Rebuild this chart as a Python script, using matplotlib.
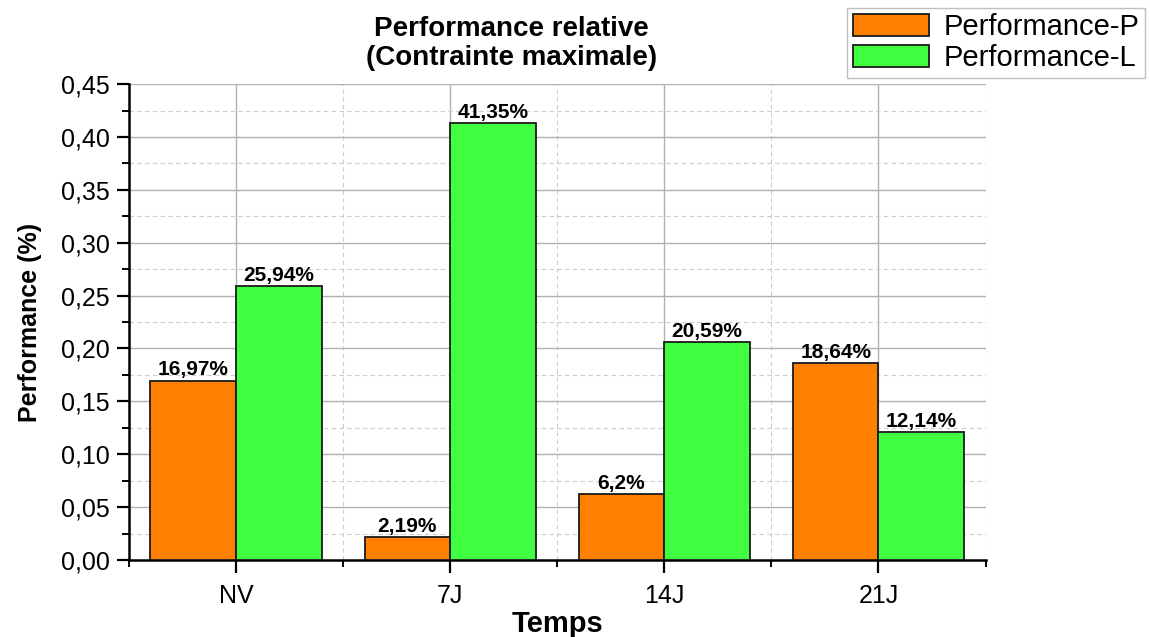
import matplotlib
matplotlib.use("Agg")
import matplotlib.pyplot as plt
import numpy as np
from matplotlib.ticker import MultipleLocator, FixedLocator

categories = ["NV", "7J", "14J", "21J"]
perf_p = [0.1697, 0.0219, 0.062, 0.1864]
perf_l = [0.2594, 0.4135, 0.2059, 0.1214]
labels_p = ["16,97%", "2,19%", "6,2%", "18,64%"]
labels_l = ["25,94%", "41,35%", "20,59%", "12,14%"]
series_names = ["Performance-P", "Performance-L"]

plt.rcParams['font.family'] = ['Liberation Sans', 'DejaVu Sans']

fig = plt.figure(figsize=(11.5, 6.37), dpi=100)
ax = fig.add_axes([0.1122, 0.1209, 0.857 - 0.1122, 0.868 - 0.1209])

x = np.arange(len(categories))
w = 0.4
c_p = "#FF8000"
c_l = "#40FF40"
bp = ax.bar(x - w / 2, perf_p, w, color=c_p, edgecolor="#1a1a1a", linewidth=1.3, zorder=3, label=series_names[0])
bl = ax.bar(x + w / 2, perf_l, w, color=c_l, edgecolor="#1a1a1a", linewidth=1.3, zorder=3, label=series_names[1])

for xi, v, t in zip(x - w / 2, perf_p, labels_p):
    ax.text(xi, v + 0.001, t, ha="center", va="bottom", fontsize=15, fontweight="bold", zorder=4)
for xi, v, t in zip(x + w / 2, perf_l, labels_l):
    ax.text(xi, v + 0.001, t, ha="center", va="bottom", fontsize=15, fontweight="bold", zorder=4)

ax.set_xlim(-0.5, 3.5)
ax.set_ylim(0, 0.45)
ax.yaxis.set_major_locator(MultipleLocator(0.05))
ax.yaxis.set_minor_locator(MultipleLocator(0.025))
ax.set_xticks(x)
ax.set_xticklabels(categories)
ax.xaxis.set_minor_locator(FixedLocator([-0.5, 0.5, 1.5, 2.5, 3.5]))
ax.set_yticklabels([f"{v:.2f}".replace(".", ",") for v in ax.get_yticks()])

ax.grid(which="major", color="#b0b0b0", linewidth=1.0, linestyle="-", zorder=0)
ax.grid(which="minor", color="#cccccc", linewidth=0.8, linestyle=(0, (4, 3)), zorder=0)
ax.set_axisbelow(True)

for s in ["top", "right"]:
    ax.spines[s].set_visible(False)
for s in ["left", "bottom"]:
    ax.spines[s].set_linewidth(1.8)
    ax.spines[s].set_color("black")

ax.tick_params(axis="both", which="major", direction="out", length=9, width=1.6, labelsize=18, pad=5)
ax.tick_params(axis="x", which="major", pad=8)
ax.tick_params(axis="both", which="minor", direction="out", length=5, width=1.4)

ax.set_ylabel("Performance (%)", fontsize=18, fontweight="bold")
ax.yaxis.set_label_coords(-0.102, 0.5)
ax.set_xlabel("Temps", fontsize=21, fontweight="bold")
ax.xaxis.set_label_coords(0.5, -0.105)

fig.text(0.445, 0.975, "Performance relative\n(Contrainte maximale)", ha="center", va="top",
         fontsize=20, fontweight="bold", linespacing=1.15)

leg = fig.legend(handles=[bp, bl], labels=series_names, loc="upper right",
                 bbox_to_anchor=(0.996, 0.988), fontsize=21, frameon=True, fancybox=False,
                 edgecolor="#b0b0b0", handlelength=2.6, handleheight=0.8,
                 borderpad=0.2, labelspacing=0.1, handletextpad=0.5, borderaxespad=0)
leg.get_frame().set_linewidth(1.0)

fig.savefig("out.png", dpi=100, facecolor="white")
